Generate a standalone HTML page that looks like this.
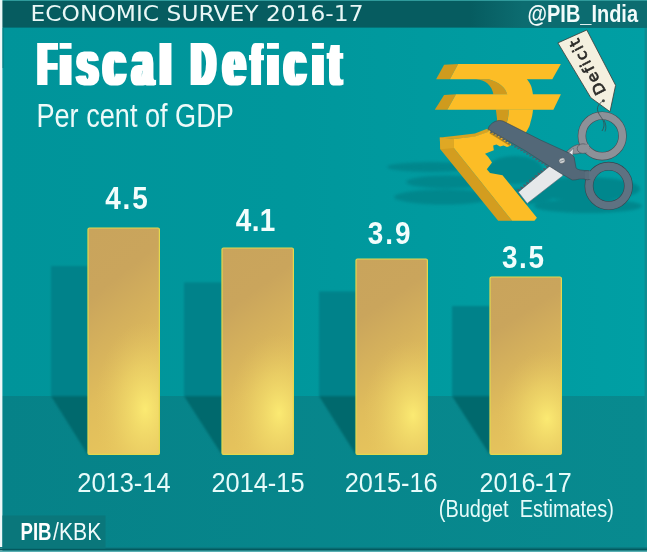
<!DOCTYPE html>
<html lang="en">
<head>
<meta charset="utf-8">
<title>Economic Survey 2016-17 - Fiscal Deficit</title>
<style>
html,body{margin:0;padding:0;background:#00979c;}
body{width:647px;height:552px;overflow:hidden;}
svg{display:block;}
.sans{font-family:"Liberation Sans",sans-serif;}
.dv{font-family:"DejaVu Sans","Liberation Sans",sans-serif;}
</style>
</head>
<body>
<svg width="647" height="552" viewBox="0 0 647 552">
<defs>
  <linearGradient id="barl" x1="0" y1="0" x2="0.25" y2="1">
    <stop offset="0" stop-color="#c9a45c"/>
    <stop offset="0.3" stop-color="#caa55c"/>
    <stop offset="0.75" stop-color="#e0bd5c"/>
    <stop offset="1" stop-color="#e6c45c"/>
  </linearGradient>
  <radialGradient id="barg" gradientUnits="objectBoundingBox" cx="0.8" cy="0.8" r="0.7" gradientTransform="translate(0.8 0.8) scale(1 0.55) translate(-0.8 -0.8)">
    <stop offset="0" stop-color="#fbea72" stop-opacity="1"/>
    <stop offset="0.5" stop-color="#f0d96a" stop-opacity="0.55"/>
    <stop offset="1" stop-color="#e4c563" stop-opacity="0"/>
  </radialGradient>
  <linearGradient id="hdr" x1="0" y1="0" x2="1" y2="0"><stop offset="0" stop-color="#0c6c70" stop-opacity="0"/><stop offset="0.3" stop-color="#0c6c70" stop-opacity="1"/><stop offset="1" stop-color="#0c6c70" stop-opacity="1"/></linearGradient>
  <linearGradient id="wallg" x1="0" y1="0" x2="1" y2="0"><stop offset="0" stop-color="#00949a"/><stop offset="0.45" stop-color="#00979c"/><stop offset="1" stop-color="#009fa4"/></linearGradient>
  <linearGradient id="floorg" x1="0" y1="0" x2="1" y2="0"><stop offset="0" stop-color="#068288"/><stop offset="1" stop-color="#088a8f"/></linearGradient>
  <filter id="blur1" x="-5%" y="-5%" width="110%" height="110%"><feGaussianBlur stdDeviation="1"/></filter>
  <filter id="blur4" x="-20%" y="-40%" width="140%" height="180%"><feGaussianBlur stdDeviation="1.8"/></filter>
  <filter id="fat" x="-2%" y="-10%" width="104%" height="120%"><feMorphology operator="dilate" radius="2.6 0.3"/></filter>
</defs>

<!-- wall -->
<rect x="0" y="0" width="647" height="552" fill="url(#wallg)"/>
<!-- floor -->
<rect x="0" y="396" width="647" height="156" fill="url(#floorg)"/>

<!-- bar shadows -->
<g filter="url(#blur1)">
  <polygon points="51,266 88,266 88,396 51,396" fill="#04828a"/>
  <polygon points="51,396 88,396 88,455 " fill="#03696d"/>
  <polygon points="184,282.5 222,282.5 222,396 184,396" fill="#04828a"/>
  <polygon points="184,396 222,396 222,455" fill="#03696d"/>
  <polygon points="319,291.5 356,291.5 356,396 319,396" fill="#04828a"/>
  <polygon points="319,396 356,396 356,455" fill="#03696d"/>
  <polygon points="452,306 490,306 490,396 452,396" fill="#04828a"/>
  <polygon points="452,396 490,396 490,455" fill="#03696d"/>
</g>

<!-- bars -->
<g>
  <rect x="88" y="228" width="71.4" height="226.4" rx="1.5" fill="url(#barl)"/>
  <rect x="222" y="248" width="71.4" height="206.4" rx="1.5" fill="url(#barl)"/>
  <rect x="356" y="259" width="71.4" height="195.4" rx="1.5" fill="url(#barl)"/>
  <rect x="490" y="277" width="71.4" height="177.4" rx="1.5" fill="url(#barl)"/>
</g>
<g stroke="#e3d84e" stroke-width="1.2">
  <rect x="88" y="228" width="71.4" height="226.4" rx="1.5" fill="url(#barg)"/>
  <rect x="222" y="248" width="71.4" height="206.4" rx="1.5" fill="url(#barg)"/>
  <rect x="356" y="259" width="71.4" height="195.4" rx="1.5" fill="url(#barg)"/>
  <rect x="490" y="277" width="71.4" height="177.4" rx="1.5" fill="url(#barg)"/>
</g>

<!-- ground shadows of illustration -->
<g fill="#06868c" filter="url(#blur4)" opacity="0.95">
  <ellipse cx="431" cy="167" rx="44" ry="5"/>
  <ellipse cx="447" cy="182" rx="41" ry="6.5"/>
  <ellipse cx="444" cy="197" rx="50" ry="7.5"/>
  <ellipse cx="515" cy="170" rx="28" ry="14"/>
  <ellipse cx="522" cy="196" rx="32" ry="8"/>
  <ellipse cx="585" cy="189" rx="55" ry="12"/>
  <ellipse cx="588" cy="206" rx="54" ry="7"/>
</g>

<!-- rupee symbol -->
<g id="rupee">
  <!-- extruded sides -->
  <polygon points="444.1,64.7 458.1,64.1 449.9,79.2 436.1,79.2" fill="#cf9b1e"/>
  <polygon points="444.1,95 456,94.3 447.3,109.8 434.8,109.8" fill="#cf9b1e"/>
  <path d="M476,79.2 C485,79.8 492,85 493.4,94.6 L507.4,94.6 C505.8,88 500,82.3 488.4,79.2 Z" fill="#cf9a1d"/>
  <path d="M495.9,109.6 L497.1,119.5 C496.5,123 493,126.5 487.2,129.3 L489,131.5 C496,130 503,127 506,124 C507.8,121 508.6,116 508.8,109.6 Z" fill="#cf9a1d"/>
  <!-- lower strip above bowl bottom -->
  <polygon points="439.8,137.4 453.9,135.9 474.9,133.4 487.2,128.8 488.5,132 474.9,136.7 453.9,139.1" fill="#d9a321"/>
  <!-- leg side -->
  <polygon points="439.8,137.4 453.9,138.9 453.9,147.9 512.1,220.8 498.2,220.8 440.3,149.2" fill="#d39d1f"/>
  <polygon points="439.8,137.4 453.9,138.9 453.9,147.9 440.3,149.2" fill="#dfa824"/>
  <!-- front faces -->
  <g fill="#fcbd26">
    <polygon points="458.1,64.1 560.9,64.1 552.3,79.2 449.9,79.2"/>
    <polygon points="456,94.3 560.9,94.3 553.4,109.8 447.3,109.8"/>
    <path d="M488.4,78.9 C500,82.3 505.8,88 507.4,95 L533,95 C532.6,91.5 532,88.8 531.1,86.1 C530.2,83.6 528.6,81.3 526.8,78.9 Z"/>
    <path d="M508.8,109.4 C508.6,116 507.8,121 506,124 C503,127 496,130 489,131.5 L492,140 L518,140 C523,136 526,133 527.4,130 C529,127.5 530,125 530.5,122 C531.8,118 532.7,114 533,109.4 Z"/>
    <path d="M453.9,138.9 L474.9,136.5 L487.8,131.9 L489.5,130 L511.5,144 L510,146 L507,146.9 L503.5,145.6 L500,146.6 L496.5,144.4 L493.2,145.5 L493.8,150.3 L485,153.8 L488.2,157 L492,162.6 L486.8,169.2 L490,173 L502.5,175.2 L536.9,217.7 L534.4,220.8 L512.1,220.8 L453.9,147.9 Z"/>
  </g>
  <path d="M490,131.6 L510.5,144.6 L509.8,146 L489.6,133.6 Z" fill="#b98a1c"/>
</g>

<!-- scissors -->
<g id="scissors">
  <!-- upper ring neck -->
  <path d="M566.8,151.2 L571.5,147.4 C575,145 578.5,144.2 581.5,144.4 L581.5,152.8 C578.5,153.9 575.5,154.2 573,153.9 L570,155.5 Z" fill="#8d9198" stroke="#474e55" stroke-width="0.6"/>
  <!-- light (lower) blade -->
  <polygon points="518.3,192 549.5,166.3 566.5,155.2 573.5,148.2 573,153 572.2,158 562.5,176 527.2,203.4" fill="#e6e8ea" stroke="#5a6a74" stroke-width="0.6"/>
  <path d="M518.3,192.0 L517.4,188.9 L521.1,189.7 L520.3,186.6 L524.0,187.3 L523.1,184.3 L526.8,185.0 L526.0,181.9 L529.6,182.7 L528.8,179.6 L532.5,180.3 L531.6,177.3 L535.3,178.0 L534.5,174.9 L538.2,175.6 L537.3,172.6 L541.0,173.3 L540.1,170.3 L543.8,171.0 L543.0,167.9 L546.7,168.6 L545.8,165.6 L549.5,166.3 Z" fill="#4b5f69"/>
  <circle cx="602.2" cy="135.9" r="20.3" fill="none" stroke="#474e55" stroke-width="8.4"/>
  <circle cx="602.2" cy="135.9" r="20.3" fill="none" stroke="#8d9198" stroke-width="7.2"/>
  <!-- dark (upper) blade with teeth + handle -->
  <path d="M490.5,130.6 L490.4,133.2 L493.5,132.4 L493.4,135.0 L496.5,134.2 L496.4,136.8 L499.5,136.0 L499.4,138.6 L502.5,137.8 L502.4,140.4 L505.5,139.7 L505.4,142.3 L508.5,141.5 L508.4,144.1 L511.5,143.3 L511.4,145.9 L514.5,145.1 L514.4,147.7 L517.5,146.9 L517.4,149.5 L520.5,148.7 L520.4,151.3 L523.5,150.5 L523.4,153.1 L526.5,152.3 L526.4,154.9 L529.5,154.1 L529.4,156.7 L532.5,155.9 L532.4,158.6 L535.5,157.8 L535.4,160.4 L538.5,159.6 L538.4,162.2 L541.5,161.4 L541.4,164.0 L544.5,163.2 L544.4,165.8 L547.5,165.0 Z" fill="#4c606e"/>
  <path d="M488.2,129.3 C488.6,126 491.5,123 495.5,121.3 C498,120.3 500.6,120.3 502.9,121 L540.5,140 L570.9,153.9 L574.1,157.1 L576,167.9 C577.6,169.6 579.8,170 582,170.2 L589,171 L588.5,179 L580,178.8 C577,179.8 574.4,180 572.2,180 L560.8,173.4 L547.5,165 L525,150.6 Z" fill="#536878" stroke="#37464f" stroke-width="0.6"/>
  <!-- lower ring -->
  <circle cx="608.7" cy="185.9" r="19.7" fill="none" stroke="#37464f" stroke-width="8.8"/>
  <circle cx="608.7" cy="185.9" r="19.7" fill="none" stroke="#5e7282" stroke-width="7.6"/>
  <ellipse cx="583" cy="148.6" rx="5.8" ry="4.8" fill="#8d9198" stroke="#474e55" stroke-width="0.6"/>
  <rect x="585" y="144.6" width="4" height="8" fill="#8d9198"/>
  <ellipse cx="587.4" cy="175.2" rx="5.2" ry="4.6" fill="#586d7c" stroke="#37464f" stroke-width="0.6"/>
  <rect x="589" y="171.2" width="4" height="8" fill="#5e7282"/>
  <rect x="579" y="171.4" width="6" height="7" fill="#536878"/>
  <!-- screw -->
  <ellipse cx="562" cy="160.7" rx="3.2" ry="2.7" transform="rotate(-28 562 160.7)" fill="#cfd2d4" stroke="#3e4b54" stroke-width="0.5"/>
  <line x1="560" y1="161.4" x2="564" y2="160" stroke="#6a7780" stroke-width="0.7"/>
</g>

<!-- tag -->
<g id="tag">
  <polygon points="557.9,42.9 586.8,30 615.6,85.3 610,111.7 590.8,97.7" fill="#f4f0df" stroke="#3a3a36" stroke-width="0.8" stroke-linejoin="round"/>
  <circle cx="603.4" cy="100.7" r="1.5" fill="#4a4a44"/>
  <path d="M603.4,100.7 C598,104 596,108 598.5,113 C601,118 604.5,120 604,126 C603.8,128 602.8,129.5 602,131" fill="none" stroke="#3a4a4e" stroke-width="0.8"/>
  <path d="M604,120 C606,124 606.5,128 605,131.5" fill="none" stroke="#3a4a4e" stroke-width="0.7"/>
  <text class="dv" transform="translate(606.3,91.6) rotate(-117.5)" font-size="15.5" fill="#2b2b28" stroke="#2b2b28" stroke-width="0.7" style="font-variant-ligatures:none" textLength="61" lengthAdjust="spacing">Deficit</text>
</g>

<!-- top bar -->
<rect x="0" y="0" width="647" height="27.6" fill="#065c60"/>
<rect x="470" y="0" width="177" height="27.6" fill="url(#hdr)"/>
<rect x="0" y="0" width="647" height="1" fill="#2f9a9b"/>
<!-- borders -->
<rect x="0" y="0" width="2.4" height="552" fill="#eef8f8"/>
<rect x="2.4" y="28" width="1.4" height="40" fill="#0a767a" opacity="0.6"/>
<rect x="644.6" y="28" width="2.4" height="524" fill="#0c8c91"/>
<rect x="0" y="547" width="647" height="1.6" fill="#0a7b82"/>
<rect x="0" y="548.5" width="647" height="2.1" fill="#04595e"/>
<rect x="0" y="550.6" width="647" height="1.4" fill="#58aeb2"/>

<!-- header texts -->
<text class="dv" x="30.5" y="20.9" font-size="21.8" fill="#e9f7f6" textLength="333" lengthAdjust="spacingAndGlyphs">ECONOMIC SURVEY 2016-17</text>
<text class="sans" x="527.6" y="21.8" font-size="23" font-weight="bold" fill="#f2fbfa" textLength="110.4" lengthAdjust="spacingAndGlyphs">@PIB_India</text>

<!-- title -->
<text class="sans" y="85.4" font-weight="bold" fill="#ffffff" filter="url(#fat)" xml:space="preserve"><tspan x="38.15" font-size="61.5" textLength="17.82" lengthAdjust="spacingAndGlyphs">F</tspan><tspan x="59.65" font-size="57.7" textLength="11.74" lengthAdjust="spacingAndGlyphs">i</tspan><tspan x="77.08" font-size="63.4" textLength="20.86" lengthAdjust="spacingAndGlyphs">s</tspan><tspan x="103.49" font-size="63.4" textLength="21.55" lengthAdjust="spacingAndGlyphs">c</tspan><tspan x="132.43" font-size="63.4" textLength="20.34" lengthAdjust="spacingAndGlyphs">a</tspan><tspan x="159.50" font-size="57.7" textLength="11.95" lengthAdjust="spacingAndGlyphs">l</tspan> <tspan x="191.61" font-size="61.5" textLength="23.67" lengthAdjust="spacingAndGlyphs">D</tspan><tspan x="223.16" font-size="63.4" textLength="21.88" lengthAdjust="spacingAndGlyphs">e</tspan><tspan x="251.42" font-size="57.7" textLength="9.43" lengthAdjust="spacingAndGlyphs">f</tspan><tspan x="266.90" font-size="57.7" textLength="11.95" lengthAdjust="spacingAndGlyphs">i</tspan><tspan x="284.43" font-size="63.4" textLength="20.86" lengthAdjust="spacingAndGlyphs">c</tspan><tspan x="312.00" font-size="57.7" textLength="11.95" lengthAdjust="spacingAndGlyphs">i</tspan><tspan x="329.17" font-size="61.5" textLength="11.65" lengthAdjust="spacingAndGlyphs">t</tspan></text>
<text class="sans" x="36.4" y="126.8" font-size="33.5" fill="#eefaf9" textLength="197.5" lengthAdjust="spacingAndGlyphs">Per cent of GDP</text>

<!-- values -->
<g class="sans" font-size="31.7" font-weight="bold" fill="#f2fdfc">
  <text transform="translate(105.2,209) scale(0.88,1)" textLength="48.3" lengthAdjust="spacing">4.5</text>
  <text transform="translate(235.8,230.5) scale(0.88,1)" textLength="45" lengthAdjust="spacing">4.1</text>
  <text transform="translate(367.8,243.8) scale(0.88,1)" textLength="48.5" lengthAdjust="spacing">3.9</text>
  <text transform="translate(502,268) scale(0.88,1)" textLength="47.7" lengthAdjust="spacing">3.5</text>
</g>

<!-- year labels -->
<g class="sans" font-size="28.2" fill="#e6fbfa">
  <text x="77.3" y="491.6" textLength="93.3" lengthAdjust="spacingAndGlyphs">2013-14</text>
  <text x="211.5" y="491.6" textLength="93" lengthAdjust="spacingAndGlyphs">2014-15</text>
  <text x="344.7" y="491.6" textLength="93" lengthAdjust="spacingAndGlyphs">2015-16</text>
  <text x="479.6" y="491.6" textLength="92" lengthAdjust="spacingAndGlyphs">2016-17</text>
</g>
<text class="sans" x="438.8" y="516.8" font-size="23.3" fill="#e6fbfa" textLength="175" lengthAdjust="spacingAndGlyphs" xml:space="preserve">(Budget  Estimates)</text>

<!-- PIB/KBK -->
<rect x="2.5" y="515.5" width="103" height="33" fill="#0a777b"/>
<text class="sans" y="540" font-size="23.5" fill="#f0fbfb"><tspan x="20.5" font-weight="bold" fill="#ffffff" textLength="31" lengthAdjust="spacingAndGlyphs">PIB</tspan><tspan x="53" textLength="48.3" lengthAdjust="spacingAndGlyphs">/KBK</tspan></text>

</svg>
</body>
</html>
